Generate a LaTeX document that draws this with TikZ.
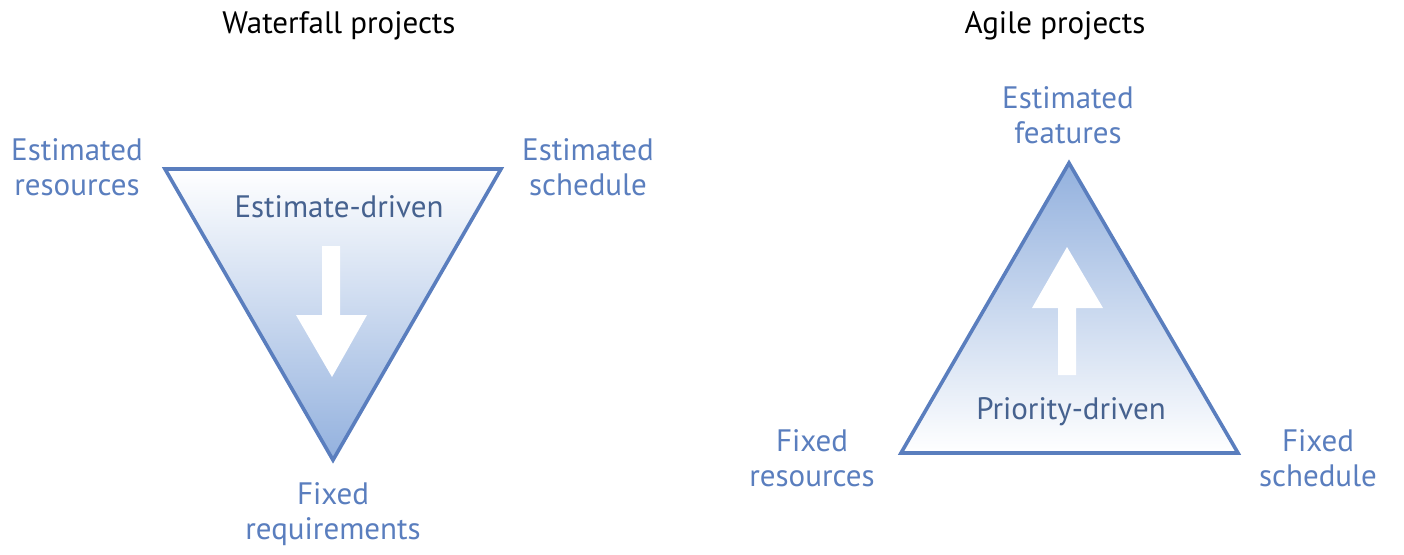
\documentclass[tikz,border=0pt]{standalone}
\usepackage{fontspec}
\setmainfont{PT Sans}
\definecolor{edge}{HTML}{5A7EBE}
\definecolor{deep}{HTML}{93B1DE}
\definecolor{inner}{HTML}{46628F}
\tikzset{
  every node/.style={inner sep=0pt, outer sep=0pt},
  corner/.style={text=edge, align=center, font=\fontsize{31}{35.5}\selectfont},
  title/.style={text=black, font=\fontsize{31}{35.5}\selectfont},
  caption/.style={text=inner, font=\fontsize{31}{35.5}\selectfont},
  frame/.style={draw=edge, line width=3.6pt, line join=miter},
  bigarrow/.style={fill=white, draw=none},
}
\begin{document}
\begin{tikzpicture}[x=1pt, y=-1pt]
\useasboundingbox (0,0) rectangle (1404,554);

% ---- Waterfall: inverted triangle ----
\coordinate (wl) at (165,169);
\coordinate (wr) at (501,169);
\coordinate (wb) at (333,460);
\shade[top color=white, bottom color=deep] (wl) -- (wr) -- (wb) -- cycle;
\draw[frame] (wl) -- (wr) -- (wb) -- cycle;
\fill[bigarrow] (322,246) -- (340,246) -- (340,315) -- (367,315) -- (332,377)
  -- (296,315) -- (322,315) -- cycle;

\node[title] (wt) at (339,26) {Waterfall projects};
\node[caption] (wc) at (339,207) {Estimate-driven};
\node[corner] (wres) at (77,167) {Estimated\\resources};
\node[corner] (wsch) at (588,167) {Estimated\\schedule};
\node[corner] (wreq) at (333,514) {Fixed\\requirements};

% ---- Agile: upright triangle ----
\coordinate (at) at (1069,163);
\coordinate (al) at (901,453);
\coordinate (ar) at (1238,453);
\shade[top color=deep, bottom color=white] (at) -- (ar) -- (al) -- cycle;
\draw[frame] (at) -- (ar) -- (al) -- cycle;
\fill[bigarrow] (1058,375) -- (1076,375) -- (1076,308) -- (1103,308) -- (1067,247)
  -- (1032,308) -- (1058,308) -- cycle;

\node[title] (agt) at (1055,26) {Agile projects};
\node[caption] (agc) at (1071,412) {Priority-driven};
\node[corner] (afeat) at (1068,115) {Estimated\\features};
\node[corner] (ares) at (812,458) {Fixed\\resources};
\node[corner] (asch) at (1318,458) {Fixed\\schedule};
\end{tikzpicture}
\end{document}
